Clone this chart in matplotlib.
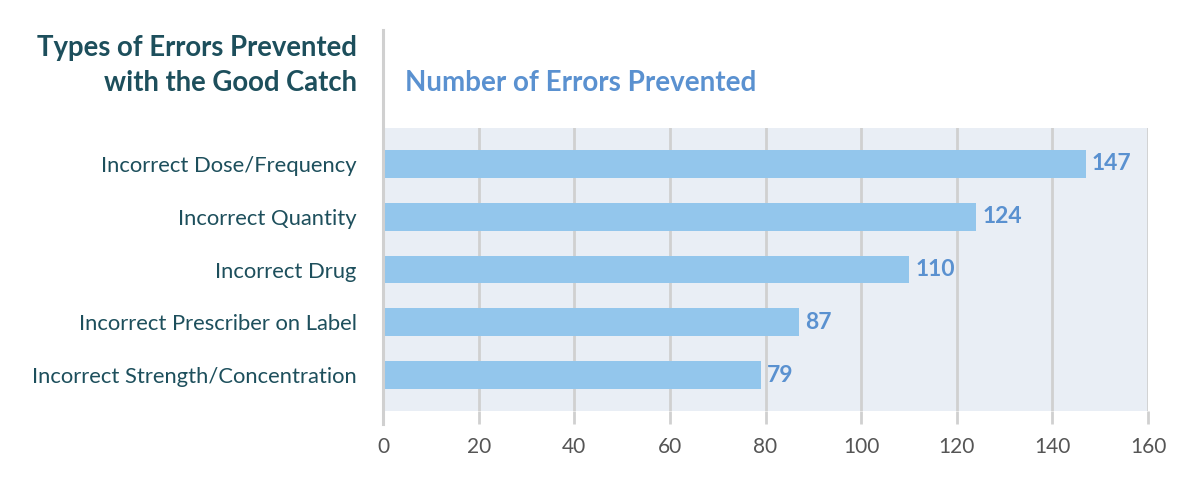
import matplotlib.pyplot as plt
from matplotlib.lines import Line2D

categories = ["Incorrect Dose/Frequency", "Incorrect Quantity", "Incorrect Drug",
              "Incorrect Prescriber on Label", "Incorrect Strength/Concentration"]
values = [147, 124, 110, 87, 79]
xticks = [0, 20, 40, 60, 80, 100, 120, 140, 160]

teal = "#1d4f5c"
blue_txt = "#5a91d0"
bar_col = "#93c6ec"
panel = "#e9eef5"
grid = "#d0d0d0"

plt.rcParams['font.family'] = ['Lato', 'DejaVu Sans']

fig = plt.figure(figsize=(12, 4.9), dpi=100)
W, H = 1200, 490
# axes spans panel: x 383..1148, y 128..411 (pixels from top)
ax = fig.add_axes([383 / W, 1 - 411 / H, (1148 - 383) / W, (411 - 128) / H])
ax.set_facecolor(panel)

y = list(range(len(categories)))
ax.barh(y, values, height=0.53, color=bar_col, zorder=2)
for yi, v in zip(y, values):
    ax.text(v + 1.3, yi, str(v), va="center", ha="left", color=blue_txt,
            fontsize=16.5, fontweight="bold", zorder=3)

ax.set_xlim(0, 160)
ax.set_ylim(4.68, -0.68)
ax.set_xticks(xticks)
ax.set_yticks(y)
ax.set_yticklabels(categories, fontsize=15.8, color=teal)
ax.tick_params(axis="y", length=0, pad=19)
ax.tick_params(axis="x", length=9.5, width=2, color=grid, labelsize=15,
               labelcolor="#555555", pad=9)
ax.grid(axis="x", color=grid, linewidth=2, zorder=1)
for s in ax.spines.values():
    s.set_visible(False)

# left vertical rule
fig.add_artist(Line2D([383 / W, 383 / W], [1 - 30 / H, 1 - 424 / H],
                      color=grid, linewidth=2.2))

fig.text(357 / W, 1 - 48 / H, "Types of Errors Prevented", ha="right", va="center",
         fontsize=19.8, fontweight="bold", color=teal)
fig.text(357 / W, 1 - 83 / H, "with the Good Catch", ha="right", va="center",
         fontsize=19.8, fontweight="bold", color=teal)
fig.text(405 / W, 1 - 83 / H, "Number of Errors Prevented", ha="left", va="center",
         fontsize=20, fontweight="bold", color=blue_txt)

fig.savefig("out.png", dpi=100, facecolor="white")
